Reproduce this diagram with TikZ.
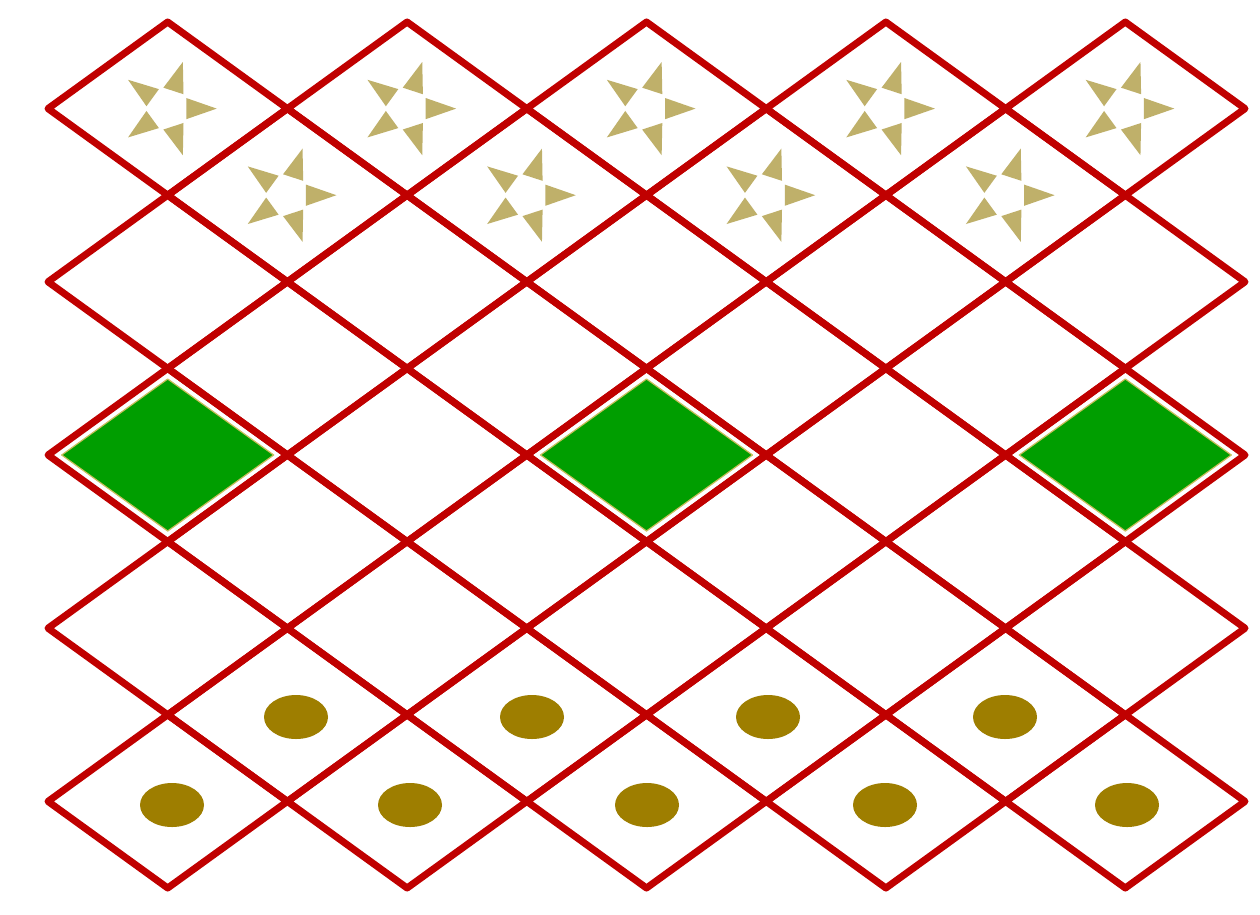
\documentclass[tikz,border=0pt]{standalone}
\definecolor{lred}{HTML}{C00000}
\definecolor{lgreen}{HTML}{009E00}
\definecolor{gedge}{HTML}{C8BE5A}
\definecolor{dotc}{HTML}{9E7E00}
\definecolor{starc}{HTML}{BFB06A}
\begin{document}
\begin{tikzpicture}[x=1pt,y=-1pt,line join=round,
  lattice/.style={draw=lred,line width=7pt},
  greenbox/.style={fill=lgreen,draw=gedge,line width=1.2pt},
  dotmark/.style={fill=dotc},
  starpiece/.style={fill=starc},
  starpic/.pic={
    \foreach \a in {0,72,144,216,288}{
      \fill[starpiece,shift={(\a:4)}] (\a:45) -- ({\a+36}:18) -- ({\a-36}:18) -- cycle;
    }
  }]
\fill[white] (0,0) rectangle (1260,914);
\useasboundingbox (0,0) rectangle (1260,914);
\def\hw{119.7}
\def\hh{86.6}
% green diamonds (row 5)
\foreach \c in {0,2,4}{
  \path[greenbox] ({48+\hw*(2*\c+1)},{22+\hh*5-76}) -- ++(106,76) -- ++(-106,76) -- ++(-106,-76) -- cycle;
}
% lattice of diamonds
\foreach \r in {0,...,8}{
  \pgfmathtruncatemacro\odd{mod(\r,2)}
  \ifnum\odd=0
    \foreach \c in {0,...,4}{
      \draw[lattice] ({48+\hw*(2*\c+1)},{22+\hh*\r}) -- ++(\hw,\hh) -- ++(-\hw,\hh) -- ++(-\hw,-\hh) -- cycle;
    }
  \else
    \foreach \c in {0,...,3}{
      \draw[lattice] ({48+\hw*(2*\c+2)},{22+\hh*\r}) -- ++(\hw,\hh) -- ++(-\hw,\hh) -- ++(-\hw,-\hh) -- cycle;
    }
  \fi
}
% stars
\foreach \c in {0,...,4}{ \pic at ({48+\hw*(2*\c+1)},{22+\hh*1}) {starpic}; }
\foreach \c in {0,...,3}{ \pic at ({48+\hw*(2*\c+2)},{22+\hh*2}) {starpic}; }
% dots
\foreach \x in {296,532,768,1005}{ \fill[dotmark] (\x,717) ellipse [x radius=32,y radius=22]; }
\foreach \x in {172,410,647,885,1127}{ \fill[dotmark] (\x,805) ellipse [x radius=32,y radius=22]; }
\end{tikzpicture}
\end{document}
